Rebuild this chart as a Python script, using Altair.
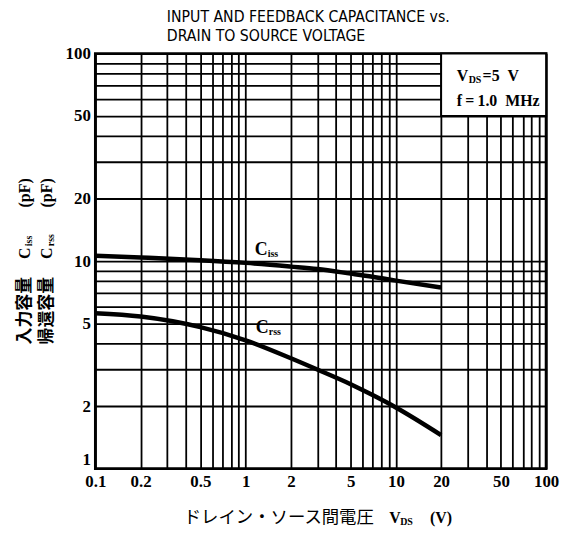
import altair as alt
import pandas as pd

# ---- data ----
vds = [0.1, 0.2, 0.5, 1, 2, 3, 5, 7, 10, 20]
ciss = [10.6, 10.4, 10.1, 9.8, 9.4, 9.15, 8.7, 8.4, 8.05, 7.45]
crss = [5.6, 5.4, 4.8, 4.15, 3.4, 3.0, 2.55, 2.26, 1.97, 1.45]

x_labels = [0.1, 0.2, 0.5, 1, 2, 5, 10, 20, 50, 100]
y_labels = [1, 2, 5, 10, 20, 50, 100]
mantissas = [1, 2, 3, 4, 5, 6, 7, 8, 9]
x_decades = [0.1, 1, 10]
y_decades = [1, 10]
x_grid = [round(m * d, 6) for d in x_decades for m in mantissas] + [100]
y_grid = [round(m * d, 6) for d in y_decades for m in mantissas] + [100]

box_x = [20, 100]
box_y = [50, 100]

SERIF = "Liberation Serif"
NARROW = "'Liberation Sans Narrow', 'DejaVu Sans Condensed', 'Liberation Sans'"
CJK = "Noto Sans CJK JP"

W, H = 454, 418

df = pd.DataFrame(
    {"v": vds + vds, "c": ciss + crss, "s": ["Ciss"] * len(vds) + ["Crss"] * len(vds)}
)


def lab_expr(vals):
    arr = ",".join(str(v) for v in vals)
    return f"indexof([{arr}], datum.value) >= 0 ? datum.label : ''"


axis_common = dict(
    grid=True, ticks=False, domain=False, title=None, format="~g",
    labelFont=SERIF, labelFontWeight="bold", labelFontSize=17, labelColor="black",
    gridColor="black", gridWidth=1.8, gridOpacity=1,
    labelOverlap=False, labelFlush=False, labelBound=False,
)

X = lambda f: alt.X(
    f, type="quantitative",
    scale=alt.Scale(type="log", domain=[0.1, 100], nice=False),
    axis=alt.Axis(values=x_grid, labelExpr=lab_expr(x_labels), labelPadding=5, **axis_common),
)
Y = lambda f: alt.Y(
    f, type="quantitative",
    scale=alt.Scale(type="log", domain=[1, 100], nice=False),
    axis=alt.Axis(
        values=y_grid, labelExpr=lab_expr(y_labels), labelPadding=5,
        labelBaseline={"expr": "datum.value == 1 ? 'bottom' : 'middle'"},
        **axis_common,
    ),
)

curves = alt.Chart(df).mark_line(
    color="black", strokeWidth=4.5, interpolate="monotone"
).encode(x=X("v"), y=Y("c"), detail="s:N")

box = alt.Chart(
    pd.DataFrame({"x1": [box_x[0]], "x2": [box_x[1]], "y1": [box_y[0]], "y2": [box_y[1]]})
).mark_rect(fill="white", stroke="black", strokeWidth=2).encode(
    x=X("x1"), x2="x2", y=Y("y1"), y2="y2"
)

one = pd.DataFrame({"d": [0]})


def ptext(t, x, y, size, font=SERIF, weight="bold", angle=None, align="left", baseline="middle"):
    kw = dict(text=t, fontSize=size, font=font, fontWeight=weight, align=align,
              baseline=baseline, color="black")
    if angle is not None:
        kw["angle"] = angle
    return alt.Chart(one).mark_text(**kw).encode(x=alt.value(x), y=alt.value(y))


def dtext(t, xv, yv, size, dx=0, dy=0):
    d = pd.DataFrame({"xv": [xv], "yv": [yv]})
    return alt.Chart(d).mark_text(
        text=t, fontSize=size, font=SERIF, fontWeight="bold", align="left",
        baseline="middle", dx=dx, dy=dy, color="black"
    ).encode(x=X("xv"), y=Y("yv"))


layers = [box, curves]

# curve labels
layers += [
    dtext("C", 1.15, 11.3, 18),
    dtext("iss", 1.15, 11.3, 10, dx=13, dy=4),
    dtext("C", 1.17, 4.73, 18),
    dtext("rss", 1.17, 4.73, 10, dx=13, dy=4),
]

# legend box text
layers += [
    ptext("V", 364, 23, 16),
    ptext("DS", 376, 27, 10),
    ptext("=5\u00a0\u00a0V", 390, 23, 16),
    ptext("f\u2009=\u20091.0\u00a0\u00a0MHz", 364, 48, 16),
]

# chart title
layers += [
    ptext("INPUT AND FEEDBACK CAPACITANCE vs.", 72, -37, 15.8, font=NARROW, weight="normal"),
    ptext("DRAIN TO SOURCE VOLTAGE", 72, -18, 15.8, font=NARROW, weight="normal"),
]

# x axis title
layers += [
    ptext("ドレイン・ソース間電圧", 89, 468, 17.5, font=CJK, weight="normal"),
    ptext("V", 296, 468, 16),
    ptext("DS", 307, 472, 10),
    ptext("(V)", 337, 468, 16),
]

# y axis title (rotated)
for xc, kanji, sub in [(-71, "入力容量", "iss"), (-49, "帰還容量", "rss")]:
    layers += [
        ptext(kanji, xc, 293, 17, font=CJK, weight="bold", angle=270),
        ptext("C", xc, 207, 16, angle=270),
        ptext(sub, xc + 4, 194, 10, angle=270),
        ptext("(pF)", xc, 155, 16, angle=270),
    ]

chart = alt.layer(*layers).properties(
    width=W, height=H,
    padding={"left": 88, "top": 44, "right": 17, "bottom": 57},
    autosize=alt.AutoSizeParams(type="none"),
    background="white",
).configure_view(stroke="black", strokeWidth=2.8)

chart.save("out.html", embed_options={"renderer": "svg", "actions": False})
